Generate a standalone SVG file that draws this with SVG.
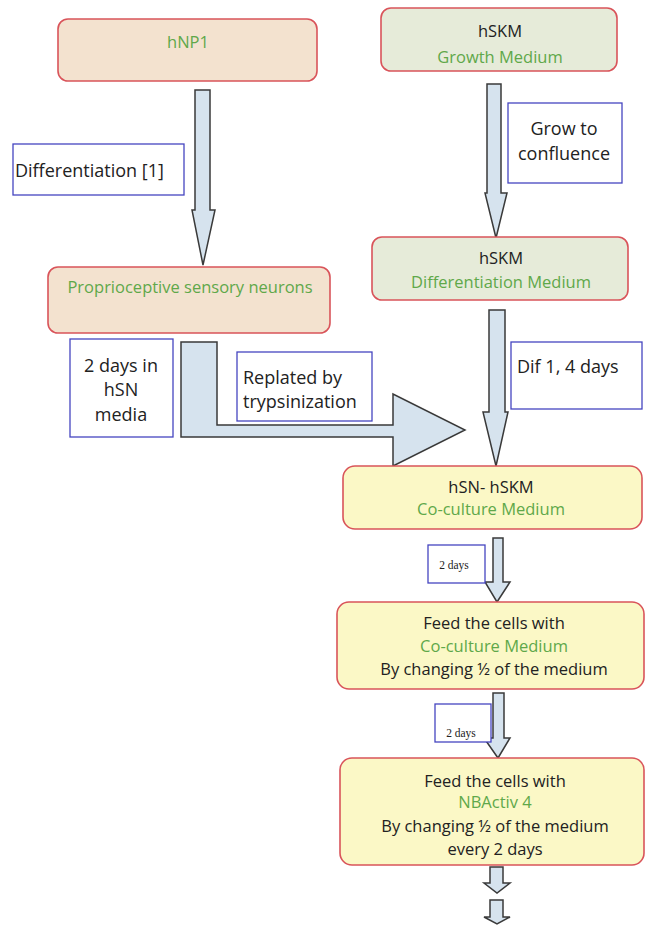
<svg xmlns="http://www.w3.org/2000/svg" width="646" height="925" viewBox="0 0 646 925">
<style>
.node{stroke:#d9545a;stroke-width:1.6}
.tan{fill:#f3e2cf}
.grn{fill:#e6ebd9}
.yel{fill:#fbf8c6}
.lbl{fill:#ffffff;stroke:#4545c0;stroke-width:1.3}
.arr{fill:#d6e3ee;stroke:#3a3a3a;stroke-width:1.5;stroke-linejoin:miter}
text{font-family:"Open Sans",Lato,"Liberation Sans",sans-serif;font-size:16.5px;fill:#222}
.L{font-size:18px}
.g{fill:#5fa84a}
.c{text-anchor:middle}
.s{font-family:"Liberation Serif","DejaVu Serif",serif;font-size:11.5px;fill:#222}
</style>
<rect width="646" height="925" fill="#ffffff"/>
<g id="connectors">
<polygon class="arr" points="195,90 210,90 210,210 215,210 203,265 192,210 195,210"/>
<polygon class="arr" points="487,84 501,84 501,193 507,193 496,238 485,193 487,193"/>
<polygon class="arr" points="489,310 505,310 505,412 508,412 496,466 483,412 489,412"/>
<polygon class="arr" points="181,342 217,342 217,425 393,425 393,394 465,430 393,466 393,437 181,437"/>
<polygon class="arr" points="493,538 503,538 503,582 510,582 497,602 485,582 493,582"/>
<polygon class="arr" points="493,693 504,693 504,738 510,738 498,758 484,738 493,738"/>
<polygon class="arr" points="490,867 503,867 503,883 510,883 497,893 484,883 490,883"/>
<polygon class="arr" points="490,900 503,900 503,917 510,917 497,924 484,917 490,917"/>
</g>
<g id="hNP1">
<rect class="node tan" x="58" y="19" width="259" height="62" rx="10"/>
<text class="c g" x="188" y="48">hNP1</text>
</g>
<g id="hSKM-growth">
<rect class="node grn" x="381" y="8" width="236" height="63" rx="10"/>
<text class="c" x="500" y="37">hSKM</text>
<text class="c g" x="500" y="63">Growth Medium</text>
</g>
<g id="label-differentiation">
<rect class="lbl" x="13" y="144" width="171" height="51"/>
<text class="L" x="15" y="177">Differentiation [1]</text>
</g>
<g id="label-grow">
<rect class="lbl" x="508" y="103" width="114" height="80"/>
<text class="c L" x="564" y="135">Grow to</text>
<text class="c L" x="564" y="160">confluence</text>
</g>
<g id="hSKM-diff">
<rect class="node grn" x="372" y="237" width="256" height="63" rx="10"/>
<text class="c" x="501" y="264">hSKM</text>
<text class="c g" x="501" y="288">Differentiation Medium</text>
</g>
<g id="proprioceptive">
<rect class="node tan" x="48" y="267" width="282" height="66" rx="10"/>
<text class="c g" x="190" y="293">Proprioceptive sensory neurons</text>
</g>
<g id="label-2days-hSN">
<rect class="lbl" x="70" y="339" width="103" height="98"/>
<text class="c L" x="121" y="372">2 days in</text>
<text class="c L" x="121" y="396">hSN</text>
<text class="c L" x="121" y="421">media</text>
</g>
<g id="label-replated">
<rect class="lbl" x="237" y="352" width="135" height="69"/>
<text class="L" x="243" y="384">Replated by</text>
<text class="L" x="243" y="408">trypsinization</text>
</g>
<g id="label-dif">
<rect class="lbl" x="511" y="342" width="131" height="67"/>
<text class="L" x="517" y="373">Dif 1, 4 days</text>
</g>
<g id="coculture">
<rect class="node yel" x="343" y="466" width="299" height="63" rx="12"/>
<text class="c" x="491" y="493">hSN- hSKM</text>
<text class="c g" x="491" y="515">Co-culture Medium</text>
</g>
<g id="label-2days-a">
<rect class="lbl" x="428" y="545" width="57" height="38"/>
<text class="c s" x="454" y="569">2 days</text>
</g>
<g id="feed1">
<rect class="node yel" x="337" y="602" width="307" height="87" rx="12"/>
<text class="c" x="494" y="629">Feed the cells with</text>
<text class="c g" x="494" y="652">Co-culture Medium</text>
<text class="c" x="494" y="675">By changing ½ of the medium</text>
</g>
<g id="label-2days-b">
<rect class="lbl" x="435" y="704" width="56" height="38"/>
<text class="c s" x="461" y="737">2 days</text>
</g>
<g id="feed2">
<rect class="node yel" x="340" y="758" width="304" height="107" rx="12"/>
<text class="c" x="495" y="787">Feed the cells with</text>
<text class="c g" x="495" y="808">NBActiv 4</text>
<text class="c" x="495" y="832">By changing ½ of the medium</text>
<text class="c" x="495" y="855">every 2 days</text>
</g>
</svg>
